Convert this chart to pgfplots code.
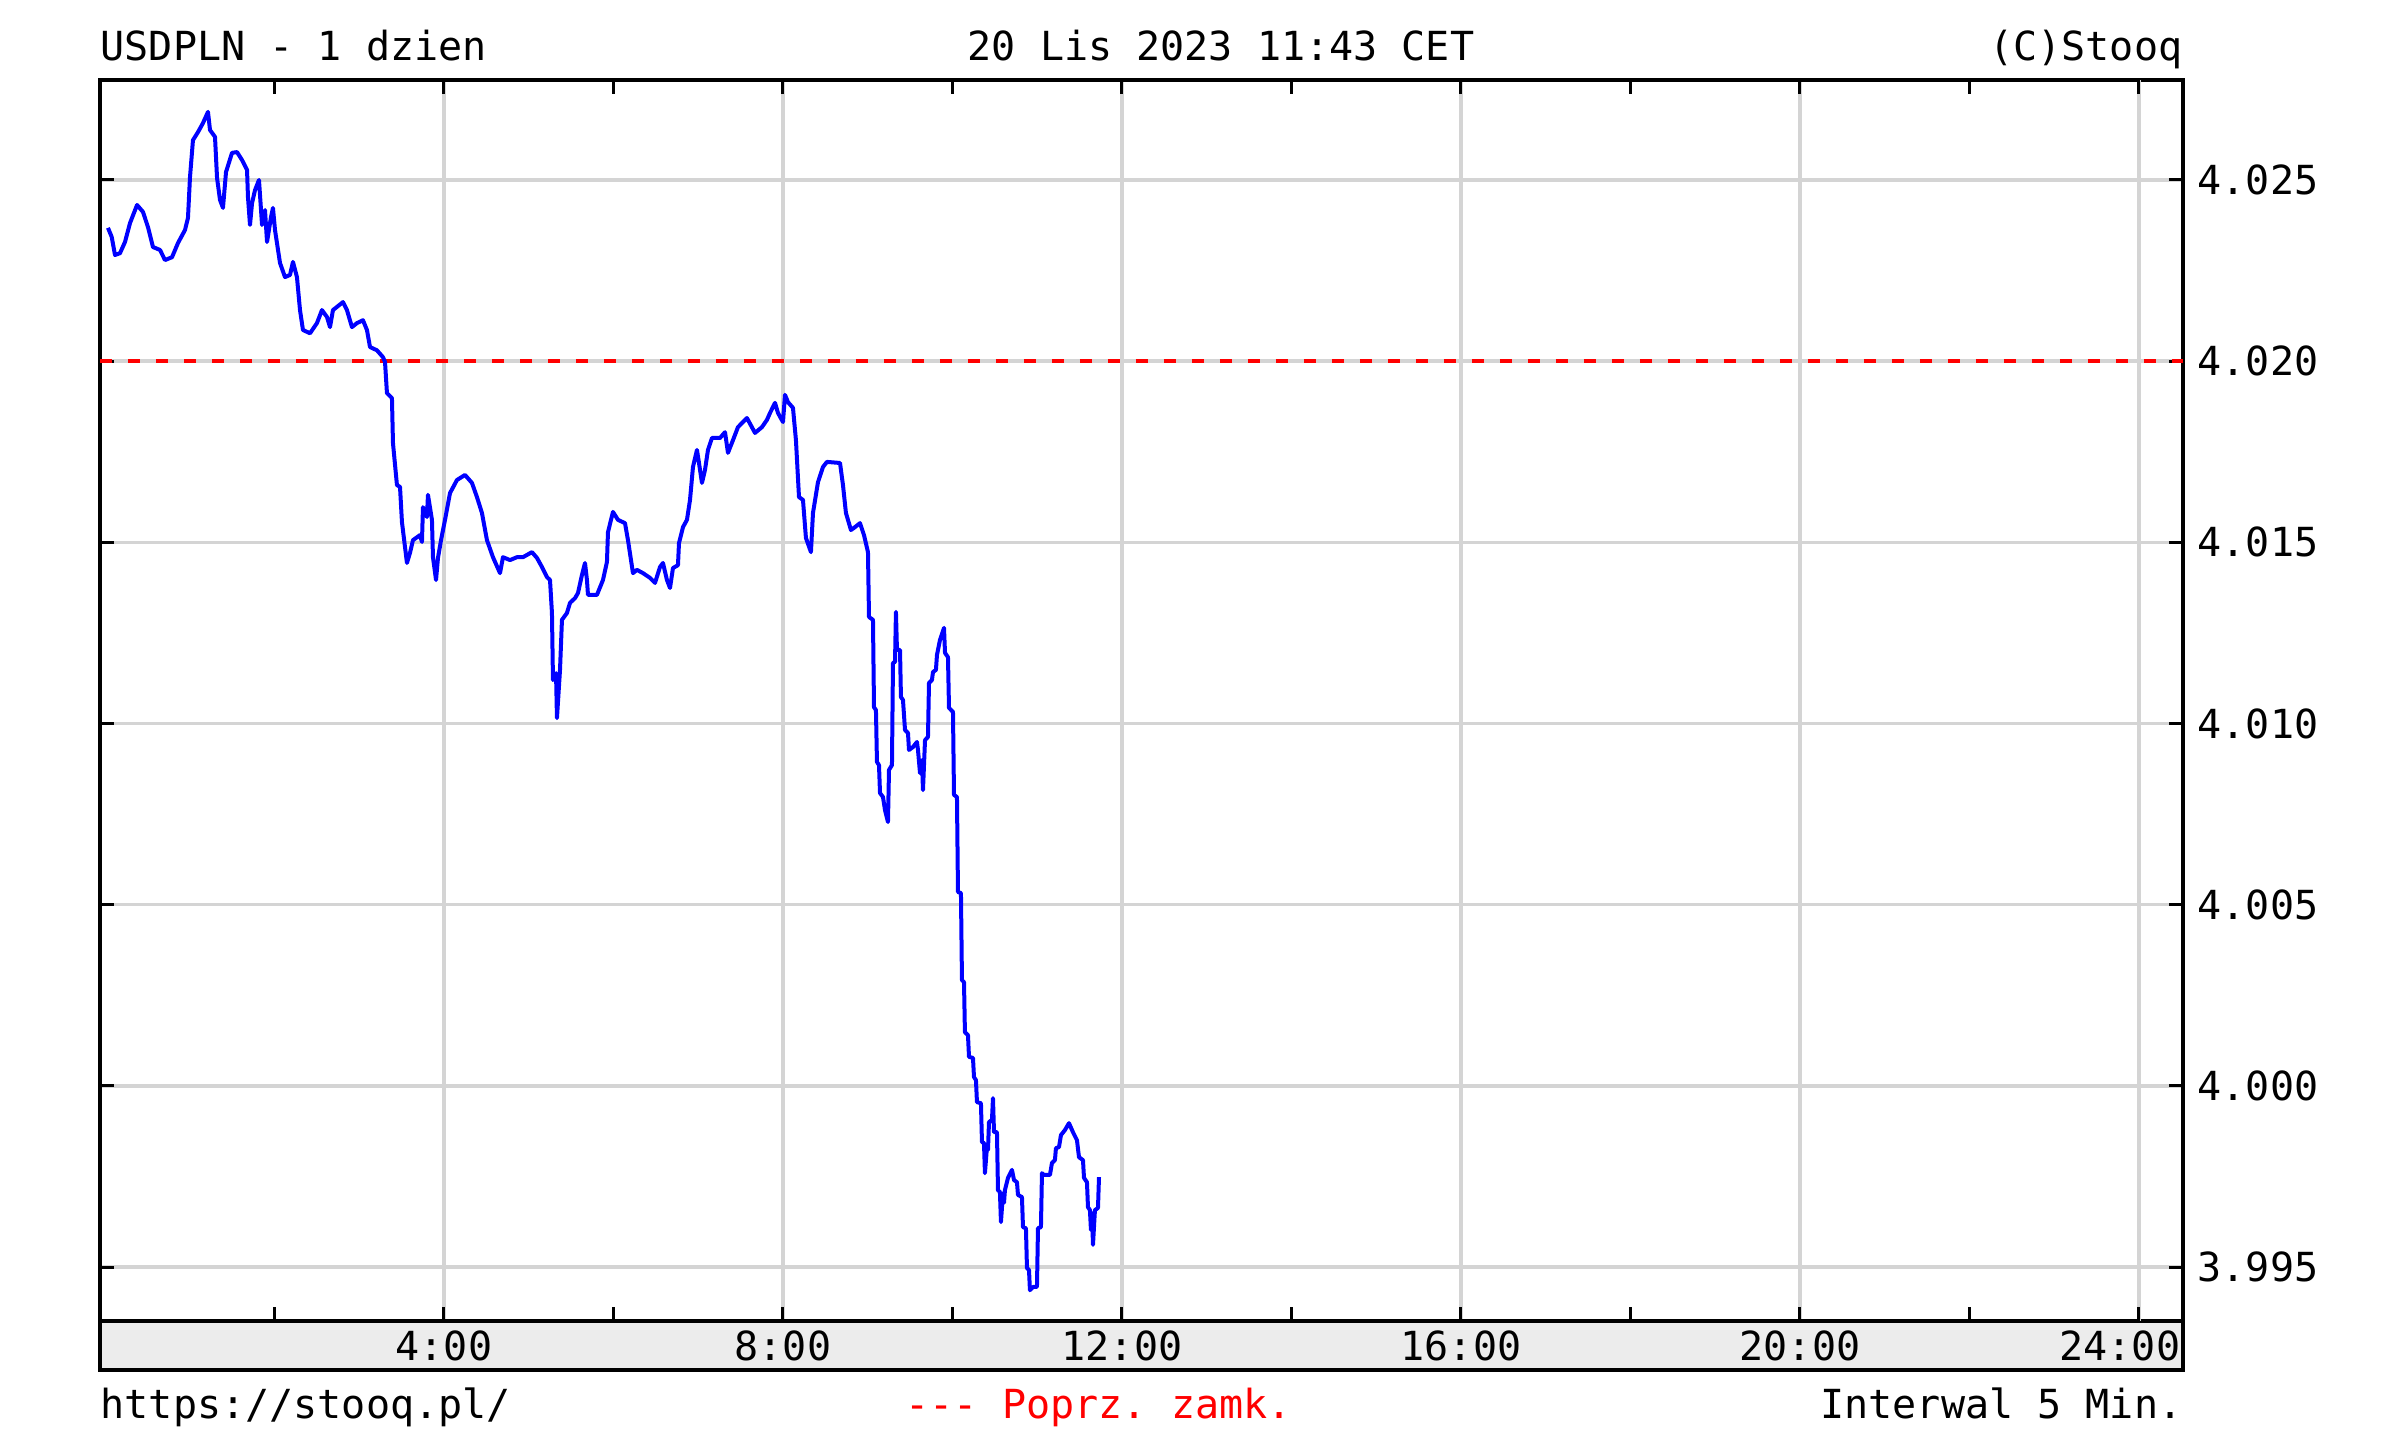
\documentclass[border=0pt]{standalone}
\usepackage{fontspec}
\setmainfont{DejaVu Sans Mono}
\usepackage{pgfplots}
\pgfplotsset{compat=1.18}
\definecolor{gridgray}{RGB}{212,212,212}
\definecolor{stripgray}{RGB}{236,236,236}
\newcommand{\stq}{\fontsize{11.4pt}{13pt}\selectfont}
\frenchspacing

\begin{document}
\begin{tikzpicture}[font=\stq]
\path[use as bounding box, fill=white] (-1.00,-1.19) rectangle (23.06,13.21);
% grey strip under the plot that holds the hour labels
\draw[line width=0.035cm, fill=stripgray] (0,0) rectangle (20.83,-0.49);
\begin{axis}[
  at={(0,0)}, anchor=south west,
  scale only axis, width=20.83cm, height=12.41cm,
  xmin=-0.059, xmax=24.52,
  ymin=3.99351, ymax=4.02776,
  axis line style={line width=0.035cm},
  xtick={4,8,12,16,20},
  xticklabels={4:00,8:00,12:00,16:00,20:00},
  extra x ticks={24}, extra x tick labels={24:00},
  extra x tick style={grid=major, xticklabel style={xshift=-0.19cm}},
  minor xtick={2,6,10,14,18,22},
  ytick={3.995,4.000,4.005,4.010,4.015,4.020,4.025},
  yticklabels={3.995,4.000,4.005,4.010,4.015,4.020,4.025},
  xtick pos=both, ytick pos=both,
  xticklabel pos=lower, yticklabel pos=right,
  tick align=inside,
  major tick length=0.14cm, minor tick length=0.14cm,
  tick style={black, line width=0.03cm},
  grid=major,
  major grid style={gridgray, line width=0.034cm},
  xticklabel style={anchor=base, inner sep=0pt, yshift=-0.40cm, font=\stq},
  yticklabel style={anchor=west, inner sep=0pt, xshift=0.14cm, font=\stq},
]
% previous close
\addplot[red, line width=0.04cm, dash pattern=on 0.12cm off 0.16cm]
  coordinates {(-0.059,4.020) (24.52,4.020)};
% USDPLN, 5 min
\addplot[blue, line width=0.04cm, line join=round] coordinates {
(0.035,4.02368) (0.079,4.02343) (0.118,4.02293) (0.177,4.02298) (0.236,4.02329)
(0.295,4.02381) (0.378,4.02431) (0.448,4.02412) (0.507,4.02370) (0.566,4.02315)
(0.649,4.02307) (0.708,4.02279) (0.791,4.02287) (0.861,4.02326) (0.944,4.02362)
(0.979,4.02395) (1.003,4.02508) (1.038,4.02610) (1.097,4.02632) (1.156,4.02657)
(1.215,4.02688) (1.239,4.02638) (1.298,4.02619) (1.322,4.02506) (1.357,4.02445)
(1.392,4.02423) (1.428,4.02522) (1.499,4.02575) (1.558,4.02577) (1.617,4.02555)
(1.676,4.02528) (1.687,4.02453) (1.711,4.02376) (1.735,4.02436) (1.770,4.02472)
(1.817,4.02500) (1.853,4.02376) (1.888,4.02417) (1.912,4.02329) (1.959,4.02398)
(1.982,4.02423) (2.006,4.02362) (2.065,4.02271) (2.124,4.02232) (2.183,4.02238)
(2.218,4.02274) (2.265,4.02232) (2.301,4.02141) (2.336,4.02086) (2.419,4.02077)
(2.501,4.02105) (2.560,4.02141) (2.619,4.02122) (2.655,4.02094) (2.690,4.02141)
(2.808,4.02163) (2.855,4.02141) (2.914,4.02094) (2.973,4.02105) (3.044,4.02113)
(3.091,4.02086) (3.127,4.02039) (3.209,4.02030) (3.280,4.02011) (3.304,4.01998)
(3.327,4.01912) (3.386,4.01898) (3.398,4.01774) (3.445,4.01658) (3.481,4.01653)
(3.504,4.01556) (3.540,4.01487) (3.563,4.01443) (3.599,4.01471) (3.634,4.01506)
(3.717,4.01520) (3.740,4.01501) (3.752,4.01597) (3.799,4.01570) (3.811,4.01631)
(3.858,4.01562) (3.870,4.01459) (3.906,4.01396) (3.929,4.01457) (3.965,4.01506)
(4.012,4.01562) (4.071,4.01636) (4.153,4.01672) (4.248,4.01686) (4.330,4.01664)
(4.389,4.01625) (4.448,4.01581) (4.507,4.01506) (4.578,4.01459) (4.661,4.01415)
(4.696,4.01459) (4.779,4.01451) (4.861,4.01459) (4.932,4.01459) (5.038,4.01473)
(5.097,4.01457) (5.156,4.01432) (5.215,4.01404) (5.251,4.01396) (5.274,4.01305)
(5.286,4.01120) (5.322,4.01139) (5.333,4.01015) (5.369,4.01148) (5.392,4.01286)
(5.451,4.01305) (5.487,4.01333) (5.546,4.01346) (5.581,4.01360) (5.628,4.01410)
(5.664,4.01443) (5.687,4.01396) (5.699,4.01355) (5.805,4.01355) (5.876,4.01396)
(5.923,4.01446) (5.935,4.01528) (5.994,4.01584) (6.053,4.01562) (6.136,4.01553)
(6.171,4.01506) (6.230,4.01415) (6.277,4.01424) (6.348,4.01415) (6.431,4.01402)
(6.490,4.01388) (6.549,4.01432) (6.584,4.01443) (6.631,4.01396) (6.667,4.01374)
(6.702,4.01429) (6.761,4.01437) (6.773,4.01498) (6.820,4.01542) (6.867,4.01562)
(6.903,4.01617) (6.938,4.01708) (6.985,4.01755) (7.009,4.01719) (7.044,4.01664)
(7.080,4.01700) (7.115,4.01755) (7.162,4.01788) (7.257,4.01788) (7.316,4.01804)
(7.351,4.01747) (7.410,4.01782) (7.469,4.01818) (7.575,4.01843) (7.670,4.01802)
(7.752,4.01818) (7.811,4.01838) (7.847,4.01857) (7.906,4.01885) (7.941,4.01857)
(8.000,4.01832) (8.024,4.01907) (8.059,4.01887) (8.118,4.01871) (8.153,4.01782)
(8.189,4.01625) (8.236,4.01617) (8.271,4.01512) (8.330,4.01473) (8.354,4.01581)
(8.413,4.01666) (8.472,4.01708) (8.519,4.01722) (8.673,4.01719) (8.708,4.01658)
(8.743,4.01581) (8.802,4.01534) (8.850,4.01542) (8.909,4.01553) (8.956,4.01520)
(9.003,4.01473) (9.015,4.01294) (9.062,4.01286) (9.074,4.01045) (9.097,4.01037)
(9.109,4.00894) (9.133,4.00885) (9.145,4.00808) (9.180,4.00797) (9.204,4.00761)
(9.239,4.00728) (9.251,4.00872) (9.286,4.00885) (9.298,4.01167) (9.322,4.01170)
(9.333,4.01308) (9.345,4.01203) (9.381,4.01203) (9.392,4.01073) (9.416,4.01065)
(9.440,4.00982) (9.475,4.00974) (9.487,4.00927) (9.534,4.00935) (9.581,4.00949)
(9.593,4.00927) (9.617,4.00863) (9.640,4.00899) (9.652,4.00816) (9.676,4.00954)
(9.711,4.00963) (9.723,4.01112) (9.758,4.01120) (9.770,4.01142) (9.805,4.01148)
(9.817,4.01189) (9.852,4.01230) (9.900,4.01264) (9.912,4.01195) (9.947,4.01183)
(9.959,4.01043) (10.006,4.01032) (10.018,4.00803) (10.053,4.00797) (10.065,4.00535)
(10.100,4.00532) (10.112,4.00292) (10.136,4.00286) (10.147,4.00148) (10.183,4.00140)
(10.195,4.00080) (10.242,4.00077) (10.254,4.00024) (10.277,4.00016) (10.289,3.99955)
(10.336,3.99952) (10.348,3.99845) (10.372,3.99842) (10.383,3.99759) (10.407,3.99831)
(10.419,3.99823) (10.431,3.99900) (10.466,3.99906) (10.478,3.99966) (10.490,3.99872)
(10.525,3.99872) (10.537,3.99712) (10.560,3.99707) (10.572,3.99624) (10.596,3.99704)
(10.608,3.99677) (10.619,3.99712) (10.655,3.99746) (10.702,3.99768) (10.726,3.99740)
(10.761,3.99734) (10.773,3.99699) (10.820,3.99693) (10.832,3.99610) (10.867,3.99607)
(10.879,3.99497) (10.903,3.99492) (10.914,3.99436) (10.950,3.99445) (10.997,3.99445)
(11.009,3.99607) (11.044,3.99610) (11.056,3.99759) (11.080,3.99754) (11.150,3.99754)
(11.174,3.99787) (11.209,3.99795) (11.221,3.99828) (11.257,3.99831) (11.280,3.99864)
(11.327,3.99878) (11.375,3.99897) (11.422,3.99872) (11.469,3.99850) (11.493,3.99803)
(11.540,3.99795) (11.552,3.99746) (11.587,3.99734) (11.599,3.99665) (11.622,3.99657)
(11.634,3.99602) (11.646,3.99649) (11.658,3.99561) (11.681,3.99657) (11.717,3.99663)
(11.729,3.99748)
};
\end{axis}
\node[anchor=base west, inner sep=0pt] at (0,12.60) {USDPLN - 1 dzien};
\node[anchor=base west, inner sep=0pt] at (8.67,12.60) {20 Lis 2023 11:43 CET};
\node[anchor=base east, inner sep=0pt] at (20.83,12.60) {(C)Stooq};
\node[anchor=base west, inner sep=0pt] at (0,-0.98) {https://stooq.pl/};
\node[anchor=base west, inner sep=0pt, red] at (8.05,-0.98) {-{}-{}- Poprz. zamk.};
\node[anchor=base east, inner sep=0pt] at (20.83,-0.98) {Interwal 5 Min.};
\end{tikzpicture}
\end{document}
